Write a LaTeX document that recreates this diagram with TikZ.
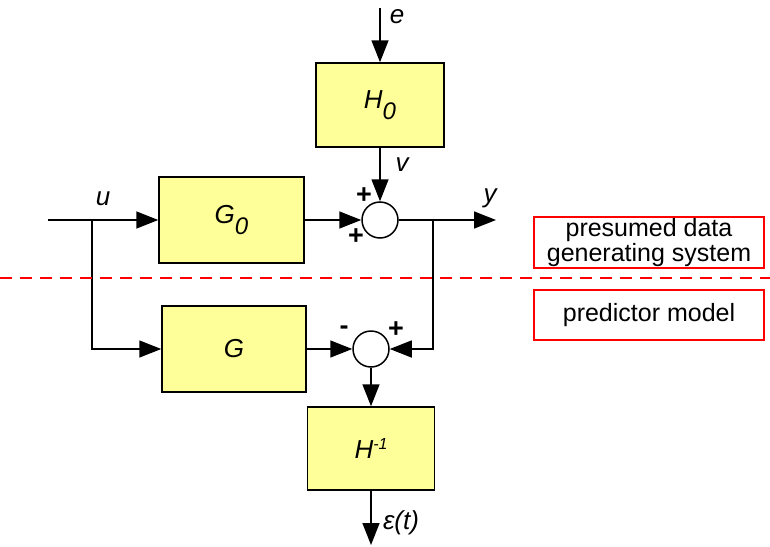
\documentclass[tikz,border=0pt]{standalone}
\usepackage{fontspec}
\setmainfont{Liberation Sans}
\usetikzlibrary{arrows.meta}
\definecolor{boxyellow}{RGB}{255,255,153}
\begin{document}
\begin{tikzpicture}[x=1pt,y=-1pt,
  blk/.style={draw=black,line width=1.5pt,fill=boxyellow,rectangle,inner sep=0pt,
    font=\fontsize{26}{30}\selectfont\itshape},
  sumj/.style={draw=black,line width=1.5pt,fill=white,circle,minimum size=36pt,inner sep=0pt},
  conn/.style={line width=1.5pt,-{Triangle[length=22pt,width=17pt]}},
  lbl/.style={font=\fontsize{26}{30}\selectfont\itshape,inner sep=0pt},
  sgn/.style={font=\fontsize{27}{30}\selectfont\bfseries,inner sep=0pt},
  redbox/.style={draw=red,line width=1.2pt,rectangle,inner sep=0pt,minimum width=230pt,
    align=center,font=\fontsize{25}{28}\selectfont}
]
\useasboundingbox (0,0) rectangle (770,546);
\newcommand{\sbz}[1]{\raisebox{-0.42em}{\fontsize{24}{26}\selectfont #1}}
\newcommand{\spz}[1]{\raisebox{0.38em}{\fontsize{16}{18}\selectfont #1}}

% blocks
\node[blk,minimum width=128pt,minimum height=84pt] (H0) at (380,105) {H\sbz{0}};
\node[blk,minimum width=145pt,minimum height=86pt] (G0) at (231.5,220) {G\sbz{0}};
\node[blk,minimum width=144pt,minimum height=86pt] (G) at (234,349) {G};
\node[blk,minimum width=127pt,minimum height=83pt] (Hinv) at (371,448.5) {H\spz{-1}};

% summing junctions
\node[sumj] (s1) at (380,220) {};
\node[sumj] (s2) at (371,349) {};

% coordinates
\coordinate (etop) at (380,8);
\coordinate (uin) at (48,220);
\coordinate (br1) at (92,220);
\coordinate (ytip) at (496,220);
\coordinate (br2) at (433,220);
\coordinate (eps) at (371,545);
\coordinate (dl) at (0,278);
\coordinate (dr) at (770,278);

% connectors
\draw[conn] (etop) -- (H0.north);
\draw[conn] (H0.south) -- (s1.north);
\draw[conn] (uin) -- (G0.west);
\draw[conn] (br1) |- (G.west);
\draw[conn] (G0.east) -- (s1.west);
\draw[conn] (s1.east) -- (ytip);
\draw[conn] (br2) |- (s2.east);
\draw[conn] (G.east) -- (s2.west);
\draw[conn] (s2.south) -- (Hinv.north);
\draw[conn] (Hinv.south) -- (eps);

% labels
\node[lbl] (le) at (397,17) {e};
\node[lbl] (lv) at (402,165) {v};
\node[lbl] (lu) at (103,199) {u};
\node[lbl] (ly) at (490,198) {y};
\node[lbl] (leps) at (401,523) {ε(t)};
\node[sgn] (p1) at (364,196) {+};
\node[sgn] (p2) at (356,237) {+};
\node[sgn] (m3) at (344,330) {-};
\node[sgn] (p4) at (396,330) {+};

% red separator
\draw[red,line width=1.5pt,dash pattern=on 12pt off 8pt] (dl) -- (dr);
\node[redbox,minimum height=51pt] (rb1) at (649,242.5) {presumed data\\[-3pt]generating system};
\node[redbox,minimum height=50pt] (rb2) at (649,315) {predictor model};
\end{tikzpicture}
\end{document}
